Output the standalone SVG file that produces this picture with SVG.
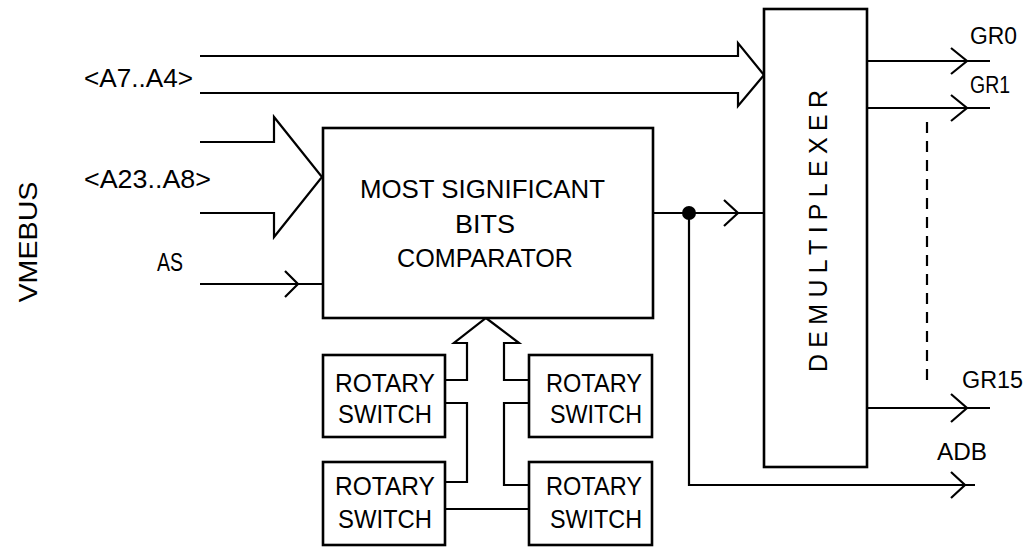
<svg xmlns="http://www.w3.org/2000/svg" width="1029" height="547" viewBox="0 0 1029 547">
<style>
.box{fill:#fff;stroke:#000;stroke-width:2.6}
.ln{fill:none;stroke:#000;stroke-width:2.2;stroke-linejoin:miter}
.t{font-family:"Liberation Sans",Arial,sans-serif;font-size:25px;fill:#000}
.s{font-family:"Liberation Sans",Arial,sans-serif;font-size:23px;fill:#000}
</style>
<rect width="1029" height="547" fill="#fff"/>
<g id="connectors">
  <path class="ln" d="M200,56 H738 V43 L764,75 L738,106 V93 H200"/>
  <path class="ln" d="M200,142 H274 V117 L322,177 L274,237 V213 H200"/>
  <path class="ln" d="M200,284 H322 M285,271 L298,284 L285,297"/>
  <path class="ln" d="M653,213 H764 M724,200 L738,213 L724,226"/>
  <circle cx="689" cy="213" r="7" fill="#000"/>
  <path class="ln" d="M689,213 V485 H975 M951,472 L965,485 L951,498"/>
  <path class="ln" d="M867,61 H990 M951,48 L967,61 L951,74"/>
  <path class="ln" d="M867,108 H990 M951,95 L967,108 L951,121"/>
  <path class="ln" d="M867,408 H990 M951,394 L967,408 L951,422"/>
  <path class="ln" d="M927,122 V387" stroke-dasharray="11 8" stroke-width="2.6"/>
  <path class="ln" d="M445,380 H467 V343 H454 L486,318 L519,343 H504 V380 H529"/>
  <path class="ln" d="M445,403 H467 V482 H445"/>
  <path class="ln" d="M529,403 H504 V485 H529"/>
  <path class="ln" d="M445,509 H529"/>
</g>
<g id="labels">
  <text class="t" x="84" y="87" textLength="109" lengthAdjust="spacingAndGlyphs">&lt;A7..A4&gt;</text>
  <text class="t" x="84" y="188" textLength="127" lengthAdjust="spacingAndGlyphs">&lt;A23..A8&gt;</text>
  <text class="t" x="157" y="271" textLength="26" lengthAdjust="spacingAndGlyphs">AS</text>
  <text class="t" transform="translate(37,242) rotate(-90)" text-anchor="middle" font-size="30" textLength="121" lengthAdjust="spacingAndGlyphs">VMEBUS</text>
  <text class="s" x="970" y="44" textLength="47" lengthAdjust="spacingAndGlyphs">GR0</text>
  <text class="s" x="970" y="93" textLength="40" lengthAdjust="spacingAndGlyphs">GR1</text>
  <text class="s" x="962" y="388" textLength="61" lengthAdjust="spacingAndGlyphs">GR15</text>
  <text class="s" x="937" y="460" textLength="50" lengthAdjust="spacingAndGlyphs">ADB</text>
</g>
<g id="comparator">
  <rect class="box" x="323" y="128" width="330" height="190"/>
  <text class="t" x="360" y="198" font-size="27" textLength="245" lengthAdjust="spacingAndGlyphs">MOST SIGNIFICANT</text>
  <text class="t" x="455" y="233" font-size="27" textLength="60" lengthAdjust="spacingAndGlyphs">BITS</text>
  <text class="t" x="397" y="267" font-size="27" textLength="176" lengthAdjust="spacingAndGlyphs">COMPARATOR</text>
</g>
<g id="demultiplexer">
  <rect class="box" x="764" y="9" width="103" height="458"/>
  <text class="t" transform="translate(827,372) rotate(-90)" font-size="27" textLength="282" lengthAdjust="spacing">DEMULTIPLEXER</text>
</g>
<g id="switch-tl">
  <rect class="box" x="323" y="355" width="122" height="82"/>
  <text class="t" x="335" y="392" font-size="27" textLength="100" lengthAdjust="spacingAndGlyphs">ROTARY</text>
  <text class="t" x="338" y="423" font-size="27" textLength="94" lengthAdjust="spacingAndGlyphs">SWITCH</text>
</g>
<g id="switch-tr">
  <rect class="box" x="529" y="355" width="123" height="82"/>
  <text class="t" x="546" y="392" font-size="27" textLength="96" lengthAdjust="spacingAndGlyphs">ROTARY</text>
  <text class="t" x="550" y="423" font-size="27" textLength="92" lengthAdjust="spacingAndGlyphs">SWITCH</text>
</g>
<g id="switch-bl">
  <rect class="box" x="323" y="462" width="122" height="83"/>
  <text class="t" x="335" y="495" font-size="27" textLength="100" lengthAdjust="spacingAndGlyphs">ROTARY</text>
  <text class="t" x="338" y="528" font-size="27" textLength="94" lengthAdjust="spacingAndGlyphs">SWITCH</text>
</g>
<g id="switch-br">
  <rect class="box" x="529" y="462" width="123" height="83"/>
  <text class="t" x="546" y="495" font-size="27" textLength="96" lengthAdjust="spacingAndGlyphs">ROTARY</text>
  <text class="t" x="550" y="528" font-size="27" textLength="92" lengthAdjust="spacingAndGlyphs">SWITCH</text>
</g>
</svg>
